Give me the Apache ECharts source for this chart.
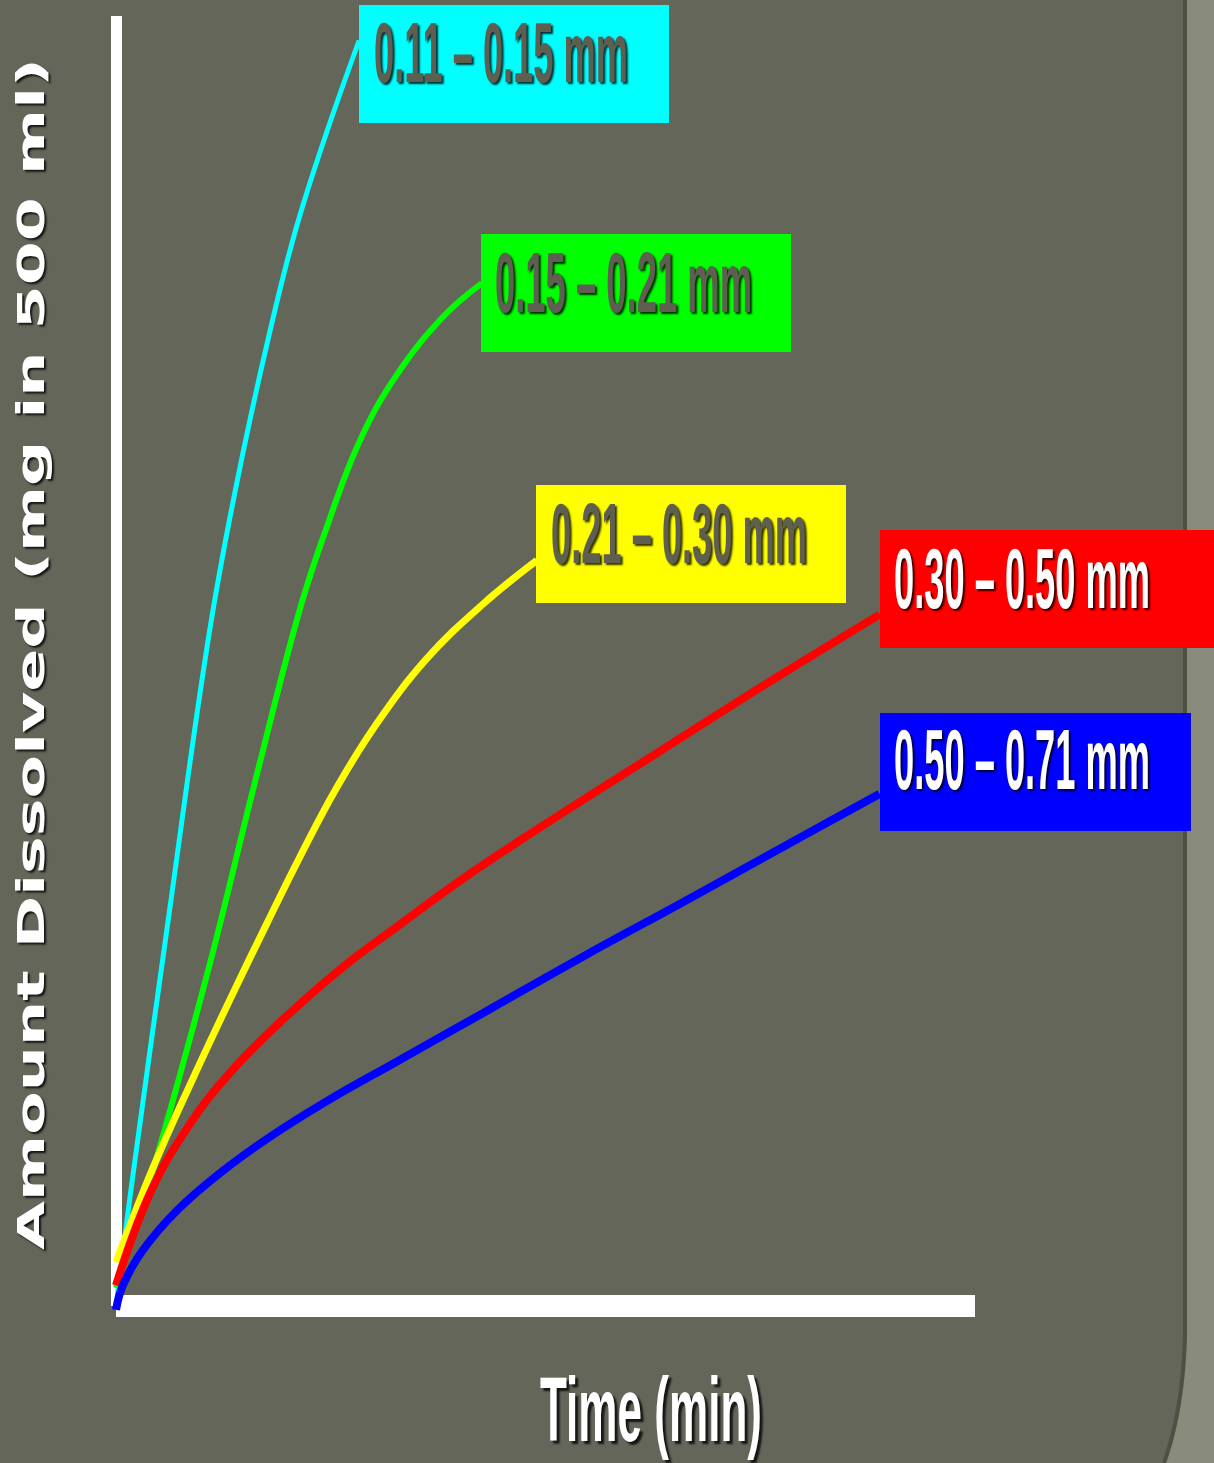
<!DOCTYPE html>
<html>
<head>
<meta charset="utf-8">
<script src="https://cdn.jsdelivr.net/npm/echarts@6/dist/echarts.min.js"></script>
<style>
  html, body { margin: 0; padding: 0; background: #65665a; }
  #chart { width: 1214px; height: 1463px; }
</style>
</head>
<body>
<div id="chart"></div>
<script>
// Particle size fractions (mm) and their dissolution curves: [time, amount]
const sizeRanges = ['0.11 – 0.15 mm', '0.15 – 0.21 mm', '0.21 – 0.30 mm', '0.30 – 0.50 mm', '0.50 – 0.71 mm'];

const curve011 = [[0.1, 0.5], [1.9, 9.8], [6.2, 30.5], [10.6, 51.1], [13.7, 62.6], [17.9, 75.5],
  [21.7, 85.2], [28.3, 98.1]];
const curve015 = [[0, 1.4], [4.0, 9.8], [10.6, 25.7], [16.4, 41.2], [21.4, 54.0], [24.6, 60.5],
  [28.4, 67.1], [32.7, 72.2], [38.1, 76.7], [42.6, 79.3]];
const curve021 = [[0, 3.4], [4.3, 10.7], [9.0, 17.7], [13.3, 23.8], [17.6, 29.7], [21.4, 34.8],
  [25.7, 40.2], [30.4, 45.2], [36.2, 50.2], [42.7, 54.4], [49.0, 57.8]];
const curve030 = [[0, 1.6], [4.0, 8.8], [8.6, 14.1], [13.3, 18.1], [19.1, 22.0], [26.1, 26.1],
  [33.1, 29.6], [41.2, 33.5], [51.7, 38.1], [63.3, 43.0], [76.1, 48.4], [88.9, 53.6]];
const curve050 = [[0, -0.3], [0.8, 1.6], [3.1, 4.3], [7.1, 7.4], [12.1, 10.3], [17.9, 13.1], [24.6, 15.9],
  [32.3, 18.8], [42.7, 22.7], [54.4, 27.1], [66.0, 31.3], [77.7, 35.6], [88.9, 39.7]];

const curves = [curve011, curve015, curve021, curve030, curve050];
const colors = ['#00ffff', '#00ff00', '#ffff00', '#ff0000', '#0000ff'];
const lineWidths = [5, 6, 7, 8, 8];

const xTitle = 'Time (min)';
const yTitle = 'Amount Dissolved (mg in 500 ml)';

// Label box layout: [x, y, width, height], text left edge, text middle, text width
const boxLayout = [
  { rect: [359, 5, 310, 118], tx: 374, ty: 59, tw: 254, ink: '#5e5f51' },
  { rect: [481, 234, 310, 118], tx: 495, ty: 289, tw: 257, ink: '#5e5f51' },
  { rect: [536, 485, 310, 118], tx: 551, ty: 540, tw: 256, ink: '#5e5f51' },
  { rect: [880, 530, 334, 118], tx: 894, ty: 585, tw: 256, ink: '#ffffff' },
  { rect: [880, 713, 311, 118], tx: 894, ty: 766, tw: 256, ink: '#ffffff' }
];

const measureCtx = document.createElement('canvas').getContext('2d');
function widthOf(text, font) {
  measureCtx.font = font;
  return measureCtx.measureText(text).width;
}

const boxFont = 'bold 85px "Liberation Sans Narrow", "Liberation Sans", Arial, sans-serif';
const textShadow = { textShadowColor: 'rgba(0,0,0,0.8)', textShadowBlur: 2, textShadowOffsetX: 2, textShadowOffsetY: 2 };
const labelGraphics = [];
sizeRanges.forEach((label, i) => {
  const b = boxLayout[i];
  labelGraphics.push({ type: 'rect', z: 200, silent: true,
    shape: { x: b.rect[0], y: b.rect[1], width: b.rect[2], height: b.rect[3] },
    style: { fill: colors[i] } });
  labelGraphics.push({ type: 'text', z: 201, silent: true, x: b.tx, y: b.ty,
    scaleX: b.tw / widthOf(label, boxFont),
    style: Object.assign({ text: label, font: boxFont, fill: b.ink, align: 'left', verticalAlign: 'middle' }, textShadow) });
});

// slide border: straight edge that bends left near the bottom
function borderEdge(x0) {
  const pts = [[x0, 0], [x0, 1335]];
  const p0 = [x0, 1335], c = [x0 - 2, 1410], p1 = [x0 - 21, 1463];
  for (let k = 1; k <= 16; k++) {
    const t = k / 16, u = 1 - t;
    pts.push([u * u * p0[0] + 2 * u * t * c[0] + t * t * p1[0], u * u * p0[1] + 2 * u * t * c[1] + t * t * p1[1]]);
  }
  return pts;
}
const borderFill = borderEdge(1187).concat([[1214, 1463], [1214, 0]]);
const borderShade = borderEdge(1185);

const xFont = 'bold 90px "Liberation Sans Narrow", "Liberation Sans", Arial, sans-serif';
const yFont = 'bold 37px "DejaVu Sans", sans-serif';

const chart = echarts.init(document.getElementById('chart'), null, { renderer: 'canvas' });
chart.setOption({
  backgroundColor: '#65665a',
  animation: false,
  grid: { left: 116, top: 16, right: 239, bottom: 157 },
  xAxis: {
    type: 'value', min: 0, max: 100,
    axisLine: { show: true, lineStyle: { color: '#ffffff', width: 22, cap: 'butt' } },
    axisTick: { show: false }, axisLabel: { show: false }, splitLine: { show: false }
  },
  yAxis: {
    type: 'value', min: 0, max: 100,
    axisLine: { show: true, lineStyle: { color: '#ffffff', width: 11, cap: 'butt' } },
    axisTick: { show: false }, axisLabel: { show: false }, splitLine: { show: false }
  },
  series: curves.map((data, i) => ({
    name: sizeRanges[i],
    type: 'line',
    data: data,
    smooth: 0.4,
    showSymbol: false,
    clip: false,
    silent: true,
    z: 3 + i,
    lineStyle: { color: colors[i], width: lineWidths[i], cap: 'butt' }
  })),
  graphic: [
    { type: 'polygon', z: 1, silent: true, shape: { points: borderFill }, style: { fill: '#898c7a' } },
    { type: 'polyline', z: 1, silent: true, shape: { points: borderShade },
      style: { fill: null, stroke: 'rgba(40,40,30,0.35)', lineWidth: 4 } },
    ...labelGraphics,
    { type: 'text', z: 200, silent: true, x: 651, y: 1416, scaleX: 222 / widthOf(xTitle, xFont),
      style: Object.assign({ text: xTitle, font: xFont, fill: '#ffffff', align: 'center', verticalAlign: 'middle' },
        textShadow, { textShadowOffsetX: 3, textShadowOffsetY: 3 }) },
    { type: 'text', z: 200, silent: true, x: 34, y: 654, rotation: Math.PI / 2, scaleX: 1192 / widthOf(yTitle, yFont),
      style: Object.assign({ text: yTitle, font: yFont, fill: '#ffffff', align: 'center', verticalAlign: 'middle' }, textShadow) }
  ]
});
</script>
</body>
</html>
